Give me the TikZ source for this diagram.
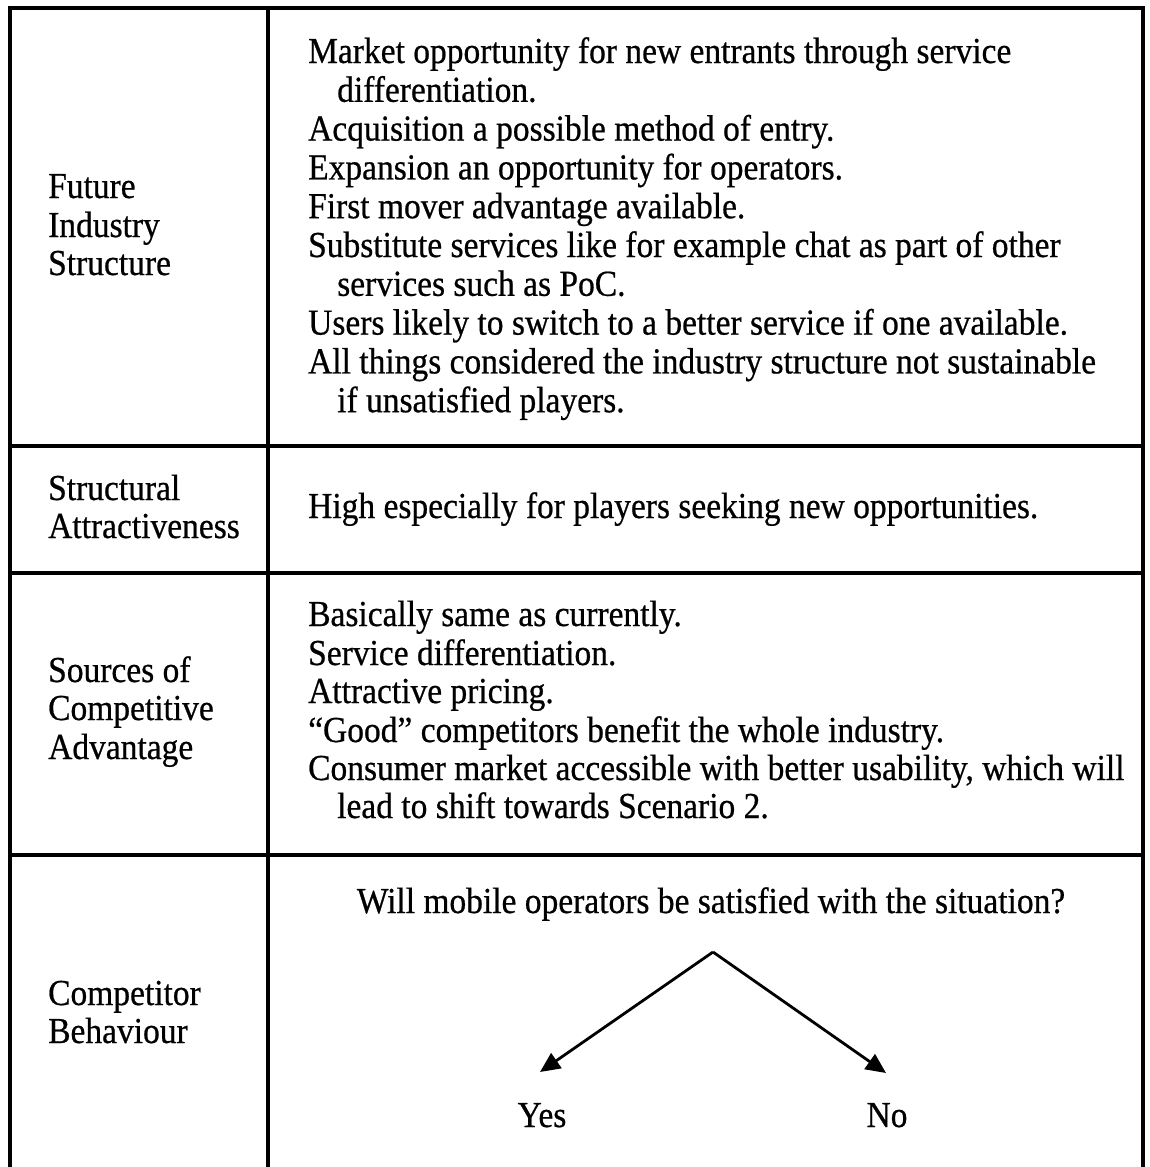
\documentclass[tikz,border=0pt]{standalone}
\usepackage{fontspec}
\setmainfont{Liberation Serif}[FakeStretch=0.915,FakeBold=0.6]
\usetikzlibrary{arrows.meta}
\begin{document}
\begin{tikzpicture}[x=1pt,y=-1pt,
  rule/.style={line width=3.2pt},
  txt/.style={inner sep=0pt,anchor=base west,font=\fontsize{36.6}{38.5}\selectfont},
  ctxt/.style={txt,anchor=base},
  branch/.style={line width=2.8pt,-{Triangle[length=20pt,width=18pt]}}]
\useasboundingbox (0,0) rectangle (1149,1167);

% table frame (open at the bottom), column and row rules
\draw[rule,line join=miter] (10,1167) -- (10,8) -- (1143,8) -- (1143,1167);
\draw[rule] (268,8) -- (268,1167);
\draw[rule] (10,446) -- (1143,446);
\draw[rule] (10,573) -- (1143,573);
\draw[rule] (10,855) -- (1143,855);

% left column headings
\foreach \t/\y [count=\i] in {{Future}/198,{Industry}/237,{Structure}/275,
  {Structural}/500,{Attractiveness}/538,
  {Sources of}/682,{Competitive}/720,{Advantage}/759,
  {Competitor}/1005,{Behaviour}/1043}
  \node[txt,name=head\i] at (48,\y) {\t};

% future industry structure
\foreach \t/\x/\y [count=\i] in {
  {Market opportunity for new entrants through service}/308/63,
  {differentiation.}/337/101.8,
  {Acquisition a possible method of entry.}/308/140.6,
  {Expansion an opportunity for operators.}/308/179.4,
  {First mover advantage available.}/308/218.2,
  {Substitute services like for example chat as part of other}/308/257,
  {services such as PoC.}/337/295.8,
  {Users likely to switch to a better service if one available.}/308/334.6,
  {All things considered the industry structure not sustainable}/308/373.4,
  {if unsatisfied players.}/337/412.2}
  \node[txt,name=fis\i] at (\x,\y) {\t};

% structural attractiveness
\node[txt,name=attr] at (308,518) {High especially for players seeking new opportunities.};

% sources of competitive advantage
\foreach \t/\x/\y [count=\i] in {
  {Basically same as currently.}/308/626,
  {Service differentiation.}/308/665,
  {Attractive pricing.}/308/703,
  {“Good” competitors benefit the whole industry.}/308/742,
  {Consumer market accessible with better usability, which will}/308/780,
  {lead to shift towards Scenario 2.}/337/818}
  \node[txt,name=src\i] at (\x,\y) {\t};

% competitor behaviour: question and its two branches
\node[ctxt,name=question] at (711,913) {Will mobile operators be satisfied with the situation?};
\coordinate (apex) at (713,952);
\coordinate (yesTip) at (540,1072);
\coordinate (noTip) at (886,1073);
\node[ctxt,name=yes] at (542,1127) {Yes};
\node[ctxt,name=no] at (887,1127) {No};
\draw[branch] (apex) -- (yesTip);
\draw[branch] (apex) -- (noTip);
\end{tikzpicture}
\end{document}
